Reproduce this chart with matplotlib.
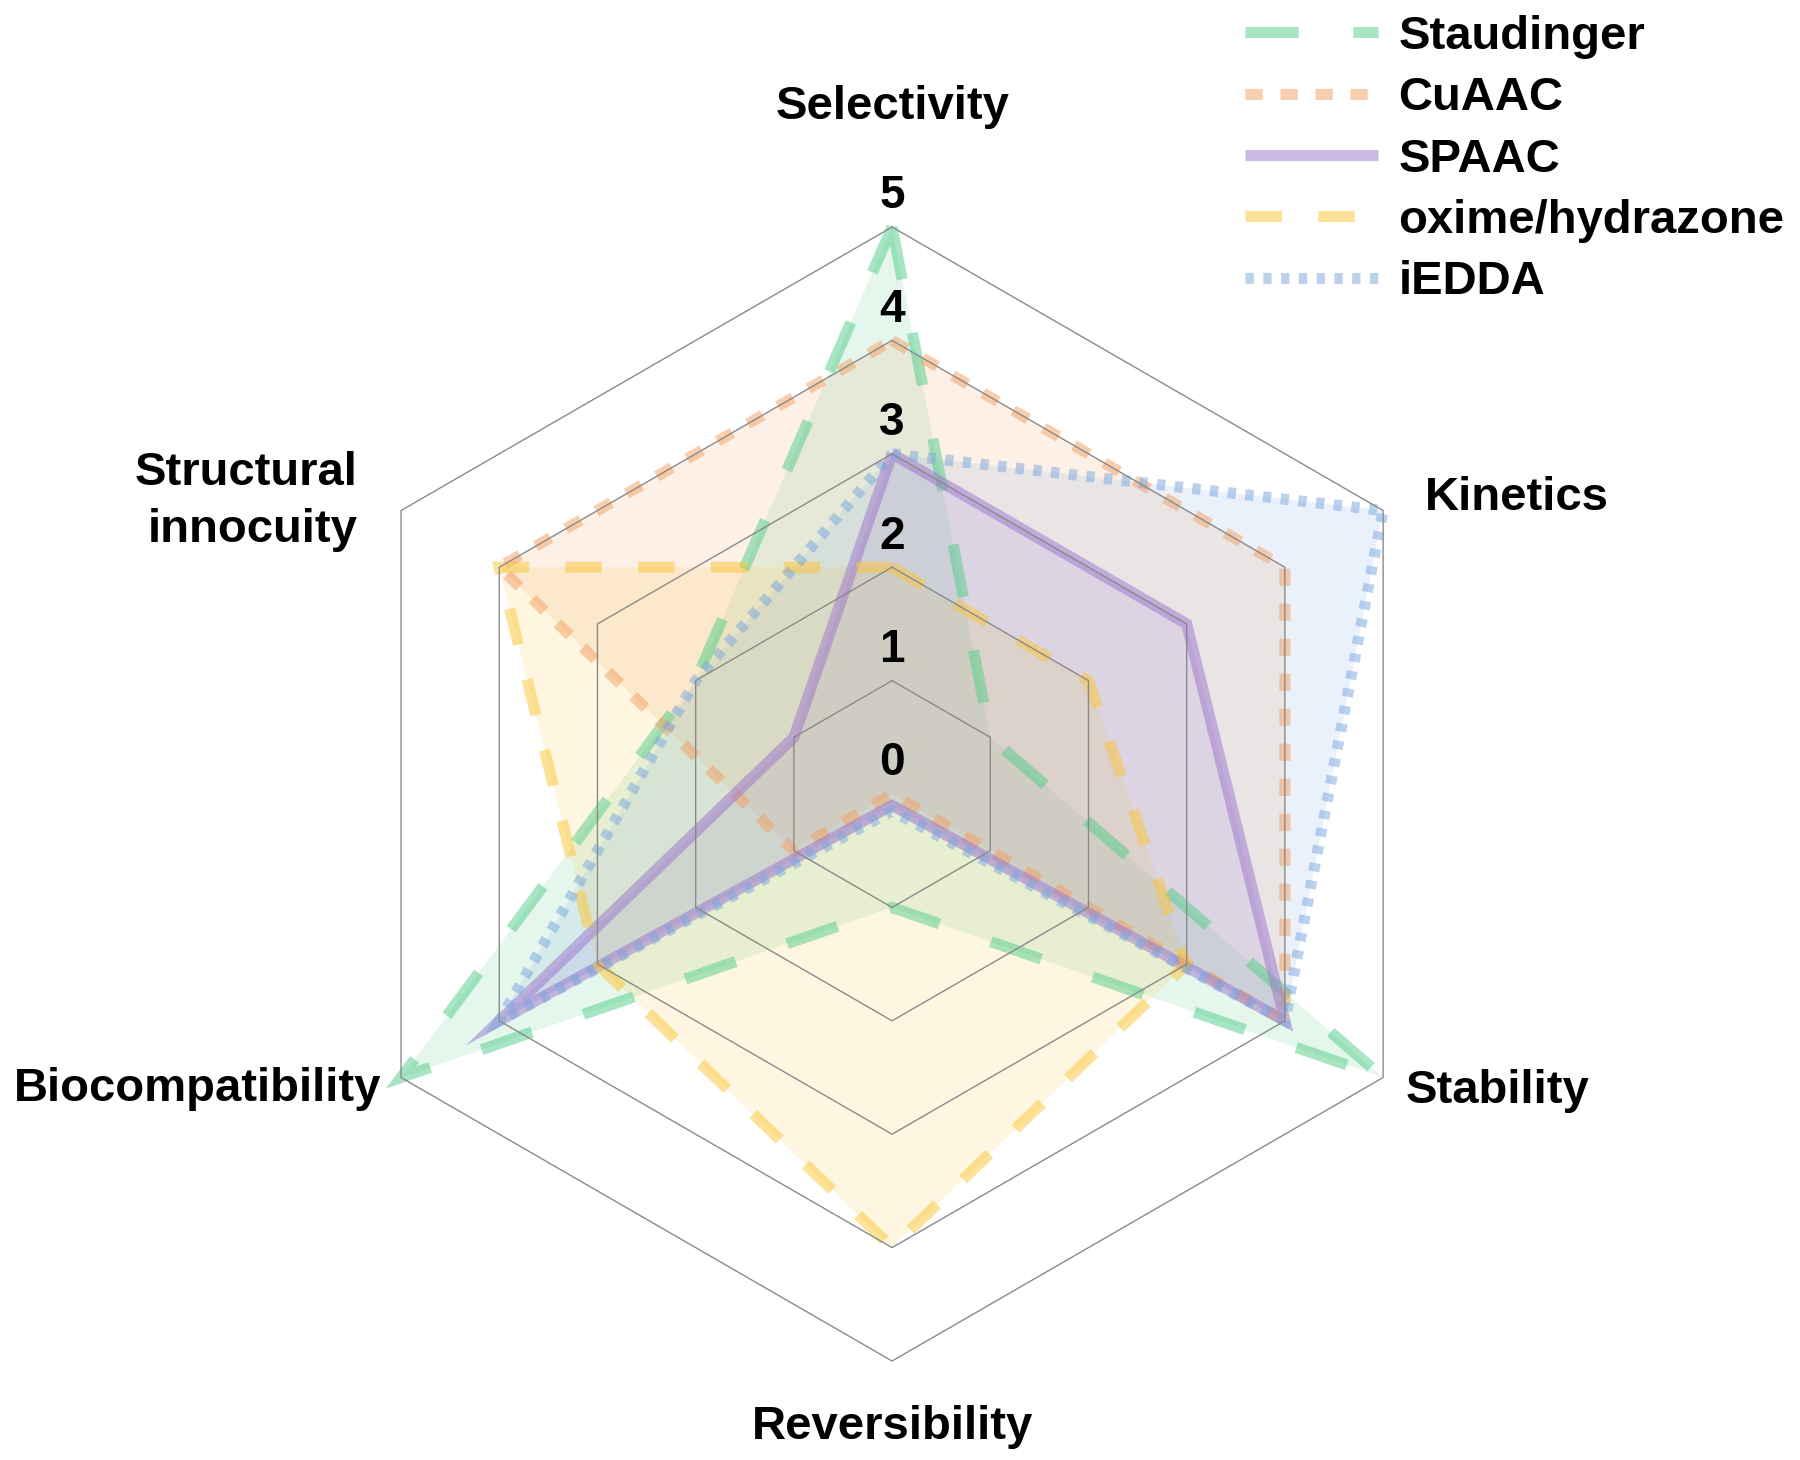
import numpy as np
import matplotlib
matplotlib.use("Agg")
import matplotlib.pyplot as plt

plt.rcParams['font.family'] = ['Liberation Sans', 'DejaVu Sans']
plt.rcParams['font.weight'] = 'bold'

# ---------------- data ----------------
categories = ['Selectivity', 'Kinetics', 'Stability', 'Reversibility',
              'Biocompatibility', 'Structural\ninnocuity']
series_names = ['Staudinger', 'CuAAC', 'SPAAC', 'oxime/hydrazone', 'iEDDA']
staudinger = [5, 1, 5, 1, 5, 2]
cuaac = [4, 4, 4, 0, 1, 4]
spaac = [3, 3, 4, 0.1, 4, 1]
oxime = [2, 2, 3, 4, 3, 4]
iedda = [3, 5, 4, 0.15, 4, 2]
tick_values = [0, 1, 2, 3, 4, 5]
tick_labels = ['0', '1', '2', '3', '4', '5']

# ---------------- styles ----------------
colors = ['#51cd89', '#f39f61', '#9b73cd', '#fbc535', '#79a7df']
dashes = [(4.8, 4.9), (1.55, 1.6), None, (3.3, 3.25), (0.75, 0.85)]
LW = 8
LINE_ALPHA = 0.5
FILL_ALPHA = 0.15

fig = plt.figure(figsize=(18, 14.6), dpi=100)
ax = fig.add_axes([0.1806, 0.0678, 0.63, 0.7767], projection='polar')
ax.set_theta_offset(np.pi / 2)
ax.set_theta_direction(-1)
ax.set_ylim(0, 5)
ax.set_xticks([])
ax.set_yticks([])
ax.grid(False)
ax.spines['polar'].set_visible(False)
ax.patch.set_facecolor('none')

n = len(categories)
angles = np.linspace(0, 2 * np.pi, n, endpoint=False)
closed_angles = np.concatenate([angles, angles[:1]])

# hexagonal grid
for v in tick_values[1:]:
    ax.plot(closed_angles, [v] * (n + 1), color='#8a8a8a', lw=1.0,
            zorder=5, clip_on=False)

all_series = [staudinger, cuaac, spaac, oxime, iedda]
handles = []
for name, vals, col, ds in zip(series_names, all_series, colors, dashes):
    closed_vals = list(vals) + [vals[0]]
    ax.fill(closed_angles, closed_vals, color=col, alpha=FILL_ALPHA,
            lw=0, zorder=2, clip_on=False)
    line, = ax.plot(closed_angles, closed_vals, color=col, alpha=LINE_ALPHA,
                    lw=LW, zorder=3, clip_on=False, label=name,
                    solid_joinstyle='miter', dash_joinstyle='miter',
                    dash_capstyle='butt', solid_capstyle='butt')
    if ds is not None:
        line.set_dashes(ds)
    handles.append(line)

# radial tick labels along the top axis
for v, lab in zip(tick_values, tick_labels):
    ax.text(0, v + 0.27, lab, ha='center', va='center', fontsize=33,
            fontweight='bold', zorder=6)

# category labels: (angle in degrees clockwise from top, radius, ha, linespacing)
label_layout = [
    (0.0, 6.06, 'center', 1.2),
    (60.9, 5.376, 'left', 1.2),
    (120.0, 5.23, 'left', 1.2),
    (180.0, 5.58, 'center', 1.2),
    (240.0, 5.20, 'right', 1.2),
    (298.7, 5.374, 'right', 1.38),
]
for cat, (deg, r, ha, ls) in zip(categories, label_layout):
    ax.text(np.deg2rad(deg), r, cat, ha=ha, va='center', fontsize=34,
            fontweight='bold', multialignment='right', linespacing=ls)

fig.legend(handles=handles, labels=series_names, loc='upper left',
           bbox_to_anchor=(1245 / 1800, 0.990), frameon=False,
           prop={'weight': 'bold', 'size': 34},
           handlelength=2.82, handletextpad=0.43, labelspacing=0.37,
           borderpad=0, borderaxespad=0)

fig.savefig('out.png', dpi=100)
